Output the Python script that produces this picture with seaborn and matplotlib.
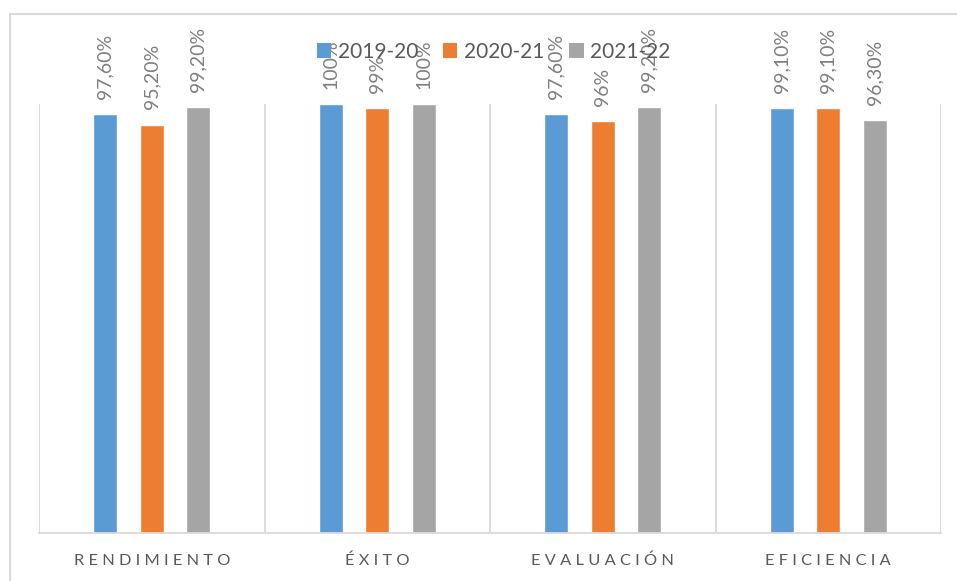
import matplotlib
matplotlib.use("Agg")
import matplotlib.pyplot as plt
import seaborn as sns
import pandas as pd
from matplotlib.patches import Rectangle, Patch

categories = ["RENDIMIENTO", "ÉXITO", "EVALUACIÓN", "EFICIENCIA"]
series = ["2019-20", "2020-21", "2021-22"]
values_2019_20 = [97.6, 100, 97.6, 99.1]
values_2020_21 = [95.2, 99, 96, 99.1]
values_2021_22 = [99.2, 100, 99.2, 96.3]
labels_2019_20 = ["97,60%", "100%", "97,60%", "99,10%"]
labels_2020_21 = ["95,20%", "99%", "96%", "99,10%"]
labels_2021_22 = ["99,20%", "100%", "99,20%", "96,30%"]
colors = ["#5B9BD5", "#ED7D31", "#A5A5A5"]

sns.set_theme(style="white")
plt.rcParams['font.family'] = ['Lato', 'DejaVu Sans']

rows = []
for s, vals in zip(series, [values_2019_20, values_2020_21, values_2021_22]):
    for c, v in zip(categories, vals):
        rows.append({"cat": c, "serie": s, "val": v})
df = pd.DataFrame(rows)

W, H = 957, 581
fig = plt.figure(figsize=(W / 100, H / 100), dpi=100)
ax = fig.add_axes([39 / W, 1 - 533 / H, (941 - 39) / W, (533 - 104) / H])

sns.barplot(data=df, x="cat", y="val", hue="serie", order=categories,
            hue_order=series, palette=colors, width=0.619, gap=0.48,
            saturation=1, ax=ax, legend=False)

ax.set_ylim(0, 100)
ax.set_xlim(-0.5, len(categories) - 0.5)
ax.set_yticks([])
ax.set_ylabel("")
ax.set_xlabel("")
for sp in ["top", "right", "left"]:
    ax.spines[sp].set_visible(False)
ax.spines["bottom"].set_color("#D9D9D9")
ax.spines["bottom"].set_linewidth(1.3)
for xb in [i - 0.5 for i in range(len(categories) + 1)]:
    ax.axvline(xb, color="#D9D9D9", lw=1.3, zorder=0)

ax.set_xticks(range(len(categories)))
ax.set_xticklabels([" ".join(c) for c in categories], fontsize=11.8,
                   color="#595959")
ax.tick_params(axis="x", length=0, pad=15)

for cont, labs in zip(ax.containers, [labels_2019_20, labels_2020_21, labels_2021_22]):
    ax.bar_label(cont, labels=labs, rotation=90, padding=11, fontsize=14,
                 color="#7F7F7F", clip_on=False)

handles = [Patch(facecolor=c, edgecolor="none", label=s) for s, c in zip(series, colors)]
fig.legend(handles=handles, loc="center", bbox_to_anchor=(493.5 / W, 1 - 52 / H),
           ncol=3, frameon=False, fontsize=15, handlelength=0.7, handleheight=0.7,
           handletextpad=0.3, columnspacing=1.2, labelcolor="#595959")

fig.patches.append(Rectangle((10 / W, -0.05), 1.2, 1 - 14 / H + 0.05,
                             transform=fig.transFigure, fill=False,
                             edgecolor="#D9D9D9", lw=1.5))

fig.savefig("out.png", dpi=100)
